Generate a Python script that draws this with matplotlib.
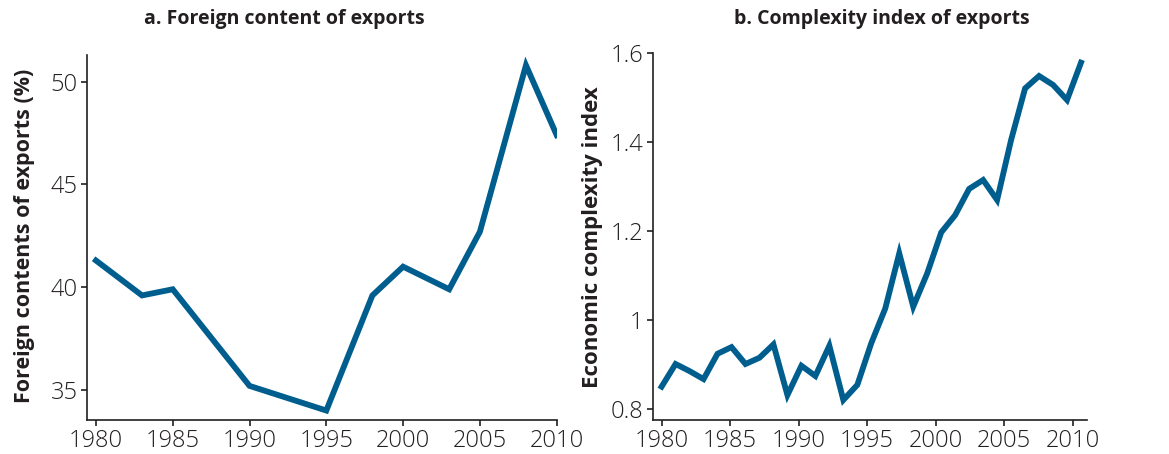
import matplotlib
matplotlib.use("Agg")
import matplotlib.pyplot as plt
import numpy as np
from matplotlib.ticker import FuncFormatter

plt.rcParams['font.family'] = ['Open Sans', 'DejaVu Sans']

# panel a: foreign content of exports (%)
years_a = [1980, 1983, 1985, 1990, 1995, 1998, 2000, 2003, 2005, 2008, 2010]
foreign = [41.3, 39.6, 39.9, 35.2, 34.0, 39.6, 41.0, 39.9, 42.7, 50.8, 47.4]

# panel b: economic complexity index
years_b = list(range(1980, 2011))
eci = [0.850, 0.901, 0.885, 0.867, 0.924, 0.939, 0.901, 0.915, 0.945, 0.831,
       0.897, 0.874, 0.942, 0.820, 0.854, 0.948, 1.026, 1.150, 1.030, 1.105,
       1.197, 1.236, 1.295, 1.315, 1.270, 1.405, 1.521, 1.549, 1.529, 1.495,
       1.579]

tick_years = [1980, 1985, 1990, 1995, 2000, 2005, 2010]

line_color = '#005e8f'
dark = '#231f20'

fig = plt.figure(figsize=(11.69, 4.54), dpi=100)
ax1 = fig.add_axes([0.0742, 0.0749, 0.402, 0.804])
ax2 = fig.add_axes([0.5583, 0.0749, 0.3718, 0.8077])

for ax in (ax1, ax2):
    for s in ['top', 'right']:
        ax.spines[s].set_visible(False)
    for s in ['left', 'bottom']:
        ax.spines[s].set_color(dark)
        ax.spines[s].set_linewidth(1.2)
    ax.tick_params(direction='out', length=4.5, width=1.2, color=dark,
                   labelcolor=dark, labelsize=17, pad=2)
    for lab in ax.get_xticklabels() + ax.get_yticklabels():
        lab.set_fontweight('light')

ax1.plot(years_a, foreign, color=line_color, linewidth=4.2, solid_joinstyle='miter')
ax1.set_xlim(1979.4, 2010)
ax1.set_ylim(33.54, 51.3)
ax1.set_xticks(tick_years)
ax1.set_yticks([35, 40, 45, 50])
ax1.set_ylabel('Foreign contents of exports (%)', fontweight='bold', fontsize=15.5,
               color=dark)
ax1.yaxis.set_label_coords(-0.110, 0.505)

ax2.plot(years_b, eci, color=line_color, linewidth=4.2, solid_joinstyle='miter')
ax2.set_xlim(1979.36, 2010.45)
ax2.set_ylim(0.775, 1.6)
ax2.set_xticks([1980 + (t - 1980) * 0.98 for t in tick_years])
ax2.set_xticklabels([str(t) for t in tick_years])
ax2.set_yticks([0.8, 1.0, 1.2, 1.4, 1.6])
ax2.yaxis.set_major_formatter(FuncFormatter(lambda v, p: '{:g}'.format(round(v, 1))))
ax2.set_ylabel('Economic complexity index', fontweight='bold', fontsize=16,
               color=dark)
ax2.yaxis.set_label_coords(-0.114, 0.50)

for ax in (ax1, ax2):
    for lab in ax.get_xticklabels() + ax.get_yticklabels():
        lab.set_fontweight('light')

fig.text(284 / 1169, 1 - 19 / 454, 'a. Foreign content of exports', ha='center',
         va='center', fontweight='bold', fontsize=14, color=dark)
fig.text(882 / 1169, 1 - 19 / 454, 'b. Complexity index of exports', ha='center',
         va='center', fontweight='bold', fontsize=14, color=dark)

fig.savefig('out.png', dpi=100)
